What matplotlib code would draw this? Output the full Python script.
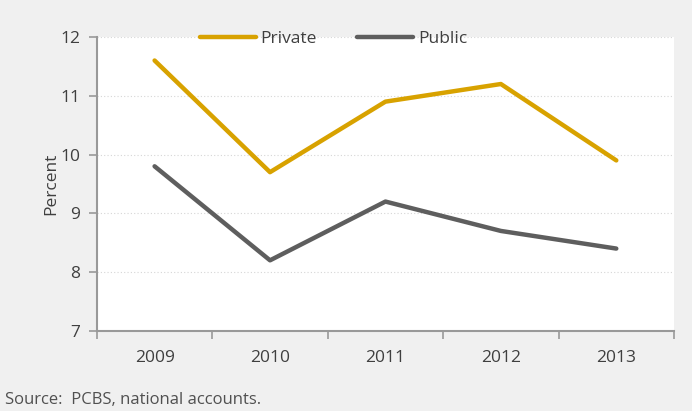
import matplotlib.pyplot as plt

# Investment shares, percent
years = ['2009', '2010', '2011', '2012', '2013']
private = [11.6, 9.7, 10.9, 11.2, 9.9]
public = [9.8, 8.2, 9.2, 8.7, 8.4]

plt.rcParams['font.family'] = ['Open Sans', 'DejaVu Sans']
text_col = '#3f3f3f'
axis_col = '#999999'

fig = plt.figure(figsize=(6.92, 4.11), dpi=100, facecolor='#f0f0f0')
ax = fig.add_axes([0.140, 0.195, 0.834, 0.715])
ax.set_facecolor('white')

x = list(range(len(years)))
ax.plot(x, private, color='#d8a200', lw=3.2, solid_capstyle='round', label='Private')
ax.plot(x, public, color='#5e5e5e', lw=3.2, solid_capstyle='round', label='Public')

ax.set_xlim(-0.5, 4.5)
ax.set_ylim(7, 12)
ax.set_yticks(range(7, 13))
ax.set_xticks(x)
ax.set_xticklabels(years)
ax.set_xticks([i - 0.5 for i in range(len(years) + 1)], minor=True)
ax.tick_params(axis='x', which='major', length=0, pad=14, labelsize=12.5, colors=text_col)
ax.tick_params(axis='x', which='minor', length=6, color=axis_col, width=1.2)
ax.tick_params(axis='y', length=6, color=axis_col, width=1.2, pad=6,
               labelsize=12.5, labelcolor=text_col)

for s in ('top', 'right'):
    ax.spines[s].set_visible(False)
for s in ('left', 'bottom'):
    ax.spines[s].set_color(axis_col)
    ax.spines[s].set_linewidth(1.5)

ax.yaxis.grid(True, linestyle=(0, (1, 2)), color='#d6d6d6', lw=0.8)
ax.set_axisbelow(True)

ax.set_ylabel('Percent', fontsize=12.5, color=text_col, labelpad=1)

leg = ax.legend(loc='upper center', bbox_to_anchor=(0.41, 1.075), ncol=2, frameon=False,
                fontsize=12.5, handlelength=3.2, handletextpad=0.3, columnspacing=2.3)
for t in leg.get_texts():
    t.set_color(text_col)

fig.text(0.007, 0.018, 'Source:  PCBS, national accounts.', fontsize=12, color='#505050')

plt.savefig('out.png', dpi=100, facecolor=fig.get_facecolor())
